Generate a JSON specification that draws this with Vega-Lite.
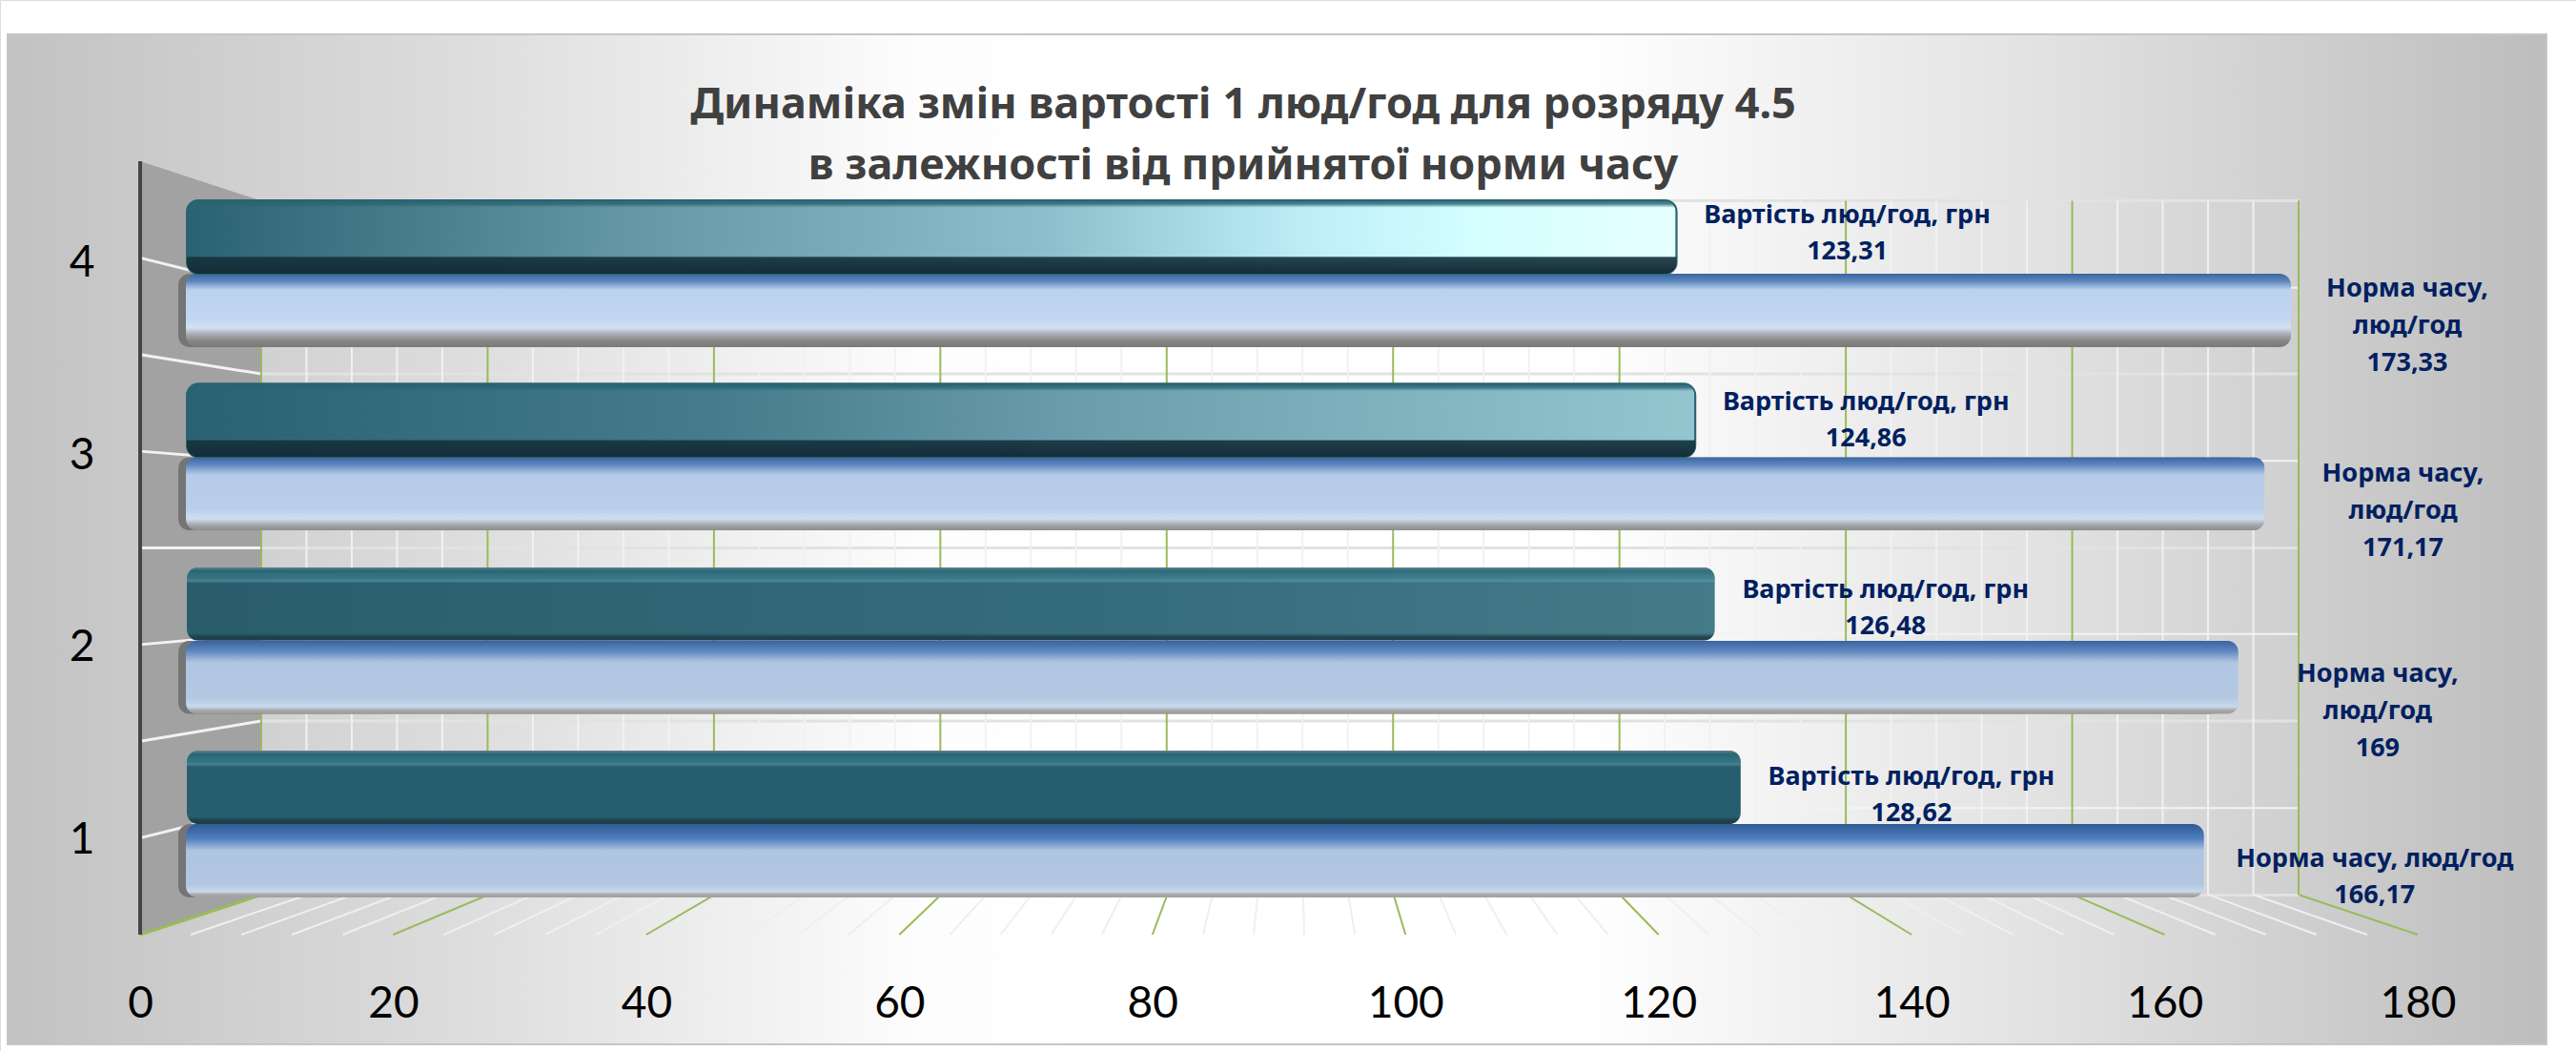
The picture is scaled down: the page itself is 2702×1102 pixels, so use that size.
{
"$schema":"https://vega.github.io/schema/vega-lite/v6.json",
"width":2702,"height":1102,"padding":0,"autosize":{"type":"none"},"background":"#ffffff",
"title":{"text":["Динаміка змін вартості 1 люд/год для розряду 4.5","в залежності від прийнятої норми  часу"],"anchor":"middle","frame":"group","dx":-47,"offset":-233,"baseline":"alphabetic","font":"Noto Sans","fontSize":45,"fontWeight":"bold","color":"#404040","lineHeight":64,"zindex":1},
"datasets":{
"panel":[{"left":0,"right":100,"low":0,"high":100}],
"wall":[{"depth":0,"low":0,"high":8},{"depth":9.57,"low":0.41,"high":7.59}],
"edge":[{"depth":0,"low":0,"high":8}],
"levels":[{"level":0,"far":0.41},{"level":1,"far":1.31},{"level":2,"far":2.21},{"level":3,"far":3.11},{"level":4,"far":4.0},{"level":5,"far":4.9},{"level":6,"far":5.8},{"level":7,"far":6.69},{"level":8,"far":7.59}],
"ticks":[{"tick":0,"back":9.57},{"tick":4,"back":13.15},{"tick":8,"back":16.73},{"tick":12,"back":20.31},{"tick":16,"back":23.89},{"tick":20,"back":27.47},{"tick":24,"back":31.05},{"tick":28,"back":34.63},{"tick":32,"back":38.21},{"tick":36,"back":41.79},{"tick":40,"back":45.37},{"tick":44,"back":48.95},{"tick":48,"back":52.53},{"tick":52,"back":56.11},{"tick":56,"back":59.69},{"tick":60,"back":63.27},{"tick":64,"back":66.85},{"tick":68,"back":70.43},{"tick":72,"back":74.01},{"tick":76,"back":77.59},{"tick":80,"back":81.17},{"tick":84,"back":84.75},{"tick":88,"back":88.33},{"tick":92,"back":91.91},{"tick":96,"back":95.49},{"tick":100,"back":99.07},{"tick":104,"back":102.65},{"tick":108,"back":106.23},{"tick":112,"back":109.81},{"tick":116,"back":113.39},{"tick":120,"back":116.97},{"tick":124,"back":120.55},{"tick":128,"back":124.13},{"tick":132,"back":127.71},{"tick":136,"back":131.29},{"tick":140,"back":134.87},{"tick":144,"back":138.45},{"tick":148,"back":142.03},{"tick":152,"back":145.61},{"tick":156,"back":149.19},{"tick":160,"back":152.77},{"tick":164,"back":156.35},{"tick":168,"back":159.93},{"tick":172,"back":163.51},{"tick":176,"back":167.09},{"tick":180,"back":170.67}],
"bars":[
{"category":4,"series":"Вартість люд/год, грн","value":123.31,"label":"Вартість люд/год, грн\n123,31"},
{"category":3,"series":"Вартість люд/год, грн","value":124.86,"label":"Вартість люд/год, грн\n124,86"},
{"category":2,"series":"Вартість люд/год, грн","value":126.48,"label":"Вартість люд/год, грн\n126,48"},
{"category":1,"series":"Вартість люд/год, грн","value":128.62,"label":"Вартість люд/год, грн\n128,62"},
{"category":4,"series":"Норма часу, люд/год","value":173.33,"label":"Норма часу,\nлюд/год\n173,33"},
{"category":3,"series":"Норма часу, люд/год","value":171.17,"label":"Норма часу,\nлюд/год\n171,17"},
{"category":2,"series":"Норма часу, люд/год","value":169,"label":"Норма часу,\nлюд/год\n169"},
{"category":1,"series":"Норма часу, люд/год","value":166.17,"label":"Норма часу, люд/год\n166,17"}
]},
"resolve":{"scale":{"x":"independent","y":"independent"},"axis":{"x":"independent","y":"independent"}},
"layer":[
{"data":{"name":"panel"},"mark":{"type":"rect","stroke":"#c6c6c6","strokeWidth":2,"fill":{"gradient":"linear","x1":0,"y1":0,"x2":1,"y2":0,"stops":[{"offset":0,"color":"#c2c2c2"},{"offset":0.2,"color":"#e0e0e0"},{"offset":0.36,"color":"#fdfdfd"},{"offset":0.42,"color":"#ffffff"},{"offset":0.62,"color":"#ffffff"},{"offset":0.8,"color":"#e2e2e2"},{"offset":1,"color":"#bdbdbd"}]}},
 "encoding":{"x":{"field":"left","type":"quantitative","axis":null,"scale":{"domain":[0,100],"range":[8,2671]}},"x2":{"field":"right"},"y":{"field":"low","type":"quantitative","axis":null,"scale":{"domain":[0,100],"range":[1095,36]}},"y2":{"field":"high"}}},
{"data":{"name":"wall"},"mark":{"type":"area","color":"#a2a2a2"},
 "encoding":{"x":{"field":"depth","type":"quantitative","axis":null,"scale":{"domain":[0,180],"range":[147,2536]}},"y":{"field":"low","type":"quantitative","axis":null,"scale":{"domain":[0,8],"range":[980,169]}},"y2":{"field":"high"}}},
{"data":{"name":"levels"},"transform":[{"filter":"datum.level<8"}],"mark":{"type":"rule","strokeWidth":3},
 "encoding":{"x":{"datum":0,"type":"quantitative","axis":null,"scale":{"domain":[0,180],"range":[147,2536]}},"x2":{"datum":9.57},"y":{"field":"level","type":"quantitative","axis":null,"scale":{"domain":[0,8],"range":[980,169]}},"y2":{"field":"far"},"stroke":{"condition":{"test":"datum.level==0","value":"#9bbb59"},"value":"#f2f2f2"}}},
{"data":{"name":"levels"},"mark":{"type":"rule"},
 "encoding":{"x":{"datum":0,"type":"quantitative","axis":null,"scale":{"domain":[0,180],"range":[274,2411]}},"x2":{"datum":180},"y":{"field":"far","type":"quantitative","axis":null,"scale":{"domain":[0,8],"range":[980,169]}},"stroke":{"condition":{"test":"datum.level%2==0","value":"#e2e2e2"},"value":"#f3f3f3"},"strokeWidth":{"condition":{"test":"datum.level%2==0","value":3},"value":2}}},
{"data":{"name":"ticks"},"transform":[{"filter":"datum.tick%20!=0"}],"mark":{"type":"rule","stroke":"#f1f1f1","strokeWidth":2},
 "encoding":{"x":{"field":"tick","type":"quantitative","axis":null,"scale":{"domain":[0,180],"range":[274,2411]}},"y":{"datum":0.41,"type":"quantitative","axis":null,"scale":{"domain":[0,8],"range":[980,169]}},"y2":{"datum":7.59}}},
{"data":{"name":"ticks"},"transform":[{"filter":"datum.tick%20==0"}],"mark":{"type":"rule","stroke":"#9bbb59","strokeWidth":2},
 "encoding":{"x":{"field":"tick","type":"quantitative","axis":null,"scale":{"domain":[0,180],"range":[274,2411]}},"y":{"datum":0.41,"type":"quantitative","axis":null,"scale":{"domain":[0,8],"range":[980,169]}},"y2":{"datum":7.59}}},
{"data":{"name":"ticks"},"transform":[{"filter":"datum.tick%20!=0"}],"mark":{"type":"rule","stroke":"#efefef","strokeWidth":2},
 "encoding":{"x":{"field":"tick","type":"quantitative","axis":null,"scale":{"domain":[0,180],"range":[147,2536]}},"x2":{"field":"back"},"y":{"datum":0,"type":"quantitative","axis":null,"scale":{"domain":[0,8],"range":[980,169]}},"y2":{"datum":0.41}}},
{"data":{"name":"ticks"},"transform":[{"filter":"datum.tick%20==0"}],"mark":{"type":"rule","stroke":"#9bbb59","strokeWidth":2},
 "encoding":{"x":{"field":"tick","type":"quantitative","title":null,"scale":{"domain":[0,180],"range":[147,2536]},"axis":{"orient":"bottom","offset":-122,"domain":false,"ticks":false,"grid":false,"title":null,"labelPadding":50,"labelFont":"Lato","labelFontSize":46,"labelColor":"#000000","labelOverlap":false,"labelFlush":false,"values":[0,20,40,60,80,100,120,140,160,180],"zindex":1}},"x2":{"field":"back"},"y":{"datum":0,"type":"quantitative","axis":null,"scale":{"domain":[0,8],"range":[980,169]}},"y2":{"datum":0.41}}},
{"data":{"name":"edge"},"mark":{"type":"rule","stroke":"#454545","strokeWidth":4},
 "encoding":{"x":{"field":"depth","type":"quantitative","axis":null,"scale":{"domain":[0,180],"range":[147,2536]}},"y":{"field":"low","type":"quantitative","axis":null,"scale":{"domain":[0,8],"range":[980,169]}},"y2":{"field":"high"}}},
{"data":{"name":"bars"},"transform":[{"filter":"datum.series=='Вартість люд/год, грн'"}],"mark":{"type":"rule","opacity":0},
 "encoding":{"y":{"field":"category","type":"ordinal","title":null,"scale":{"type":"band","domain":[4,3,2,1],"range":[175,982],"padding":0},"axis":{"orient":"left","offset":-147,"domain":false,"ticks":false,"grid":false,"title":null,"labelAngle":0,"labelPadding":48,"labelFont":"Lato","labelFontSize":46,"labelColor":"#000000","zindex":1}}}},
{"data":{"name":"bars"},"transform":[{"filter":"datum.series=='Норма часу, люд/год'"}],"mark":{"type":"bar","cornerRadius":12,"fill":"#757575"},
 "encoding":{"x":{"field":"value","type":"quantitative","axis":null,"scale":{"domain":[0,180],"range":[187,2470]}},"y":{"field":"category","type":"ordinal","axis":null,"scale":{"type":"band","domain":[4,3,2,1],"range":[287,941],"paddingInner":0.6,"paddingOuter":0}}}},
{"data":{"name":"bars"},"transform":[{"filter":"datum.series=='Норма часу, люд/год' && datum.category==4"}],"mark":{"type":"bar","cornerRadius":12,"fill":{"gradient":"linear","x1":0,"y1":0,"x2":0,"y2":1,"stops":[{"offset":0,"color":"#3a65a0"},{"offset":0.1,"color":"#5c86bd"},{"offset":0.22,"color":"#bcd1ee"},{"offset":0.62,"color":"#c2d7f3"},{"offset":0.74,"color":"#d3e1f2"},{"offset":0.82,"color":"#a9aeb4"},{"offset":0.92,"color":"#858585"},{"offset":1,"color":"#7a7a7a"}]}},
 "encoding":{"x":{"field":"value","type":"quantitative","axis":null,"scale":{"domain":[0,180],"range":[195,2488]}},"y":{"field":"category","type":"ordinal","axis":null,"scale":{"type":"band","domain":[4,3,2,1],"range":[287,941],"paddingInner":0.6,"paddingOuter":0}}}},
{"data":{"name":"bars"},"transform":[{"filter":"datum.series=='Норма часу, люд/год' && datum.category==3"}],"mark":{"type":"bar","cornerRadius":12,"fill":{"gradient":"linear","x1":0,"y1":0,"x2":0,"y2":1,"stops":[{"offset":0,"color":"#3a65a3"},{"offset":0.1,"color":"#5c86bd"},{"offset":0.24,"color":"#b6cbe8"},{"offset":0.7,"color":"#bacee9"},{"offset":0.84,"color":"#cfdef0"},{"offset":0.92,"color":"#a5a9ae"},{"offset":1,"color":"#8a8a8a"}]}},
 "encoding":{"x":{"field":"value","type":"quantitative","axis":null,"scale":{"domain":[0,180],"range":[195,2488]}},"y":{"field":"category","type":"ordinal","axis":null,"scale":{"type":"band","domain":[4,3,2,1],"range":[287,941],"paddingInner":0.6,"paddingOuter":0}}}},
{"data":{"name":"bars"},"transform":[{"filter":"datum.series=='Норма часу, люд/год' && datum.category==2"}],"mark":{"type":"bar","cornerRadius":12,"fill":{"gradient":"linear","x1":0,"y1":0,"x2":0,"y2":1,"stops":[{"offset":0,"color":"#37619f"},{"offset":0.14,"color":"#5f88bf"},{"offset":0.3,"color":"#b1c6e2"},{"offset":0.78,"color":"#b3c8e3"},{"offset":0.9,"color":"#c9d9ec"},{"offset":0.95,"color":"#a8a8ab"},{"offset":1,"color":"#999999"}]}},
 "encoding":{"x":{"field":"value","type":"quantitative","axis":null,"scale":{"domain":[0,180],"range":[195,2488]}},"y":{"field":"category","type":"ordinal","axis":null,"scale":{"type":"band","domain":[4,3,2,1],"range":[287,941],"paddingInner":0.6,"paddingOuter":0}}}},
{"data":{"name":"bars"},"transform":[{"filter":"datum.series=='Норма часу, люд/год' && datum.category==1"}],"mark":{"type":"bar","cornerRadius":12,"fill":{"gradient":"linear","x1":0,"y1":0,"x2":0,"y2":1,"stops":[{"offset":0,"color":"#2f5a96"},{"offset":0.2,"color":"#4f7fbe"},{"offset":0.36,"color":"#afc4e0"},{"offset":0.82,"color":"#b2c6e1"},{"offset":0.92,"color":"#c9d9ec"},{"offset":0.96,"color":"#a8a8ab"},{"offset":1,"color":"#a0a0a0"}]}},
 "encoding":{"x":{"field":"value","type":"quantitative","axis":null,"scale":{"domain":[0,180],"range":[195,2488]}},"y":{"field":"category","type":"ordinal","axis":null,"scale":{"type":"band","domain":[4,3,2,1],"range":[287,941],"paddingInner":0.6,"paddingOuter":0}}}},
{"data":{"name":"bars"},"transform":[{"filter":"datum.series=='Вартість люд/год, грн' && datum.category==4"}],"mark":{"type":"bar","cornerRadius":12,"stroke":"#2a6373","strokeWidth":2,"fill":{"gradient":"linear","x1":0,"y1":0,"x2":1,"y2":0,"stops":[{"offset":0,"color":"#2b6271"},{"offset":0.3,"color":"#6498a6"},{"offset":0.58,"color":"#8dc0cc"},{"offset":0.75,"color":"#bdeef8"},{"offset":0.87,"color":"#d5ffff"},{"offset":1,"color":"#e6ffff"}]}},
 "encoding":{"x":{"field":"value","type":"quantitative","axis":null,"scale":{"domain":[0,180],"range":[196,2477]}},"y":{"field":"category","type":"ordinal","axis":null,"scale":{"type":"band","domain":[4,3,2,1],"range":[210,864],"paddingInner":0.6,"paddingOuter":0}}}},
{"data":{"name":"bars"},"transform":[{"filter":"datum.series=='Вартість люд/год, грн' && datum.category==3"}],"mark":{"type":"bar","cornerRadius":12,"stroke":"#2a6373","strokeWidth":2,"fill":{"gradient":"linear","x1":0,"y1":0,"x2":1,"y2":0,"stops":[{"offset":0,"color":"#2a6272"},{"offset":0.35,"color":"#457b8a"},{"offset":0.6,"color":"#6c9fad"},{"offset":1,"color":"#94c6d0"}]}},
 "encoding":{"x":{"field":"value","type":"quantitative","axis":null,"scale":{"domain":[0,180],"range":[196,2477]}},"y":{"field":"category","type":"ordinal","axis":null,"scale":{"type":"band","domain":[4,3,2,1],"range":[210,864],"paddingInner":0.6,"paddingOuter":0}}}},
{"data":{"name":"bars"},"transform":[{"filter":"datum.series=='Вартість люд/год, грн' && datum.category==2"}],"mark":{"type":"bar","cornerRadius":12,"fill":{"gradient":"linear","x1":0,"y1":0,"x2":1,"y2":0,"stops":[{"offset":0,"color":"#295d6c"},{"offset":0.6,"color":"#356c7b"},{"offset":1,"color":"#457a89"}]}},
 "encoding":{"x":{"field":"value","type":"quantitative","axis":null,"scale":{"domain":[0,180],"range":[196,2477]}},"y":{"field":"category","type":"ordinal","axis":null,"scale":{"type":"band","domain":[4,3,2,1],"range":[210,864],"paddingInner":0.6,"paddingOuter":0}}}},
{"data":{"name":"bars"},"transform":[{"filter":"datum.series=='Вартість люд/год, грн' && datum.category==1"}],"mark":{"type":"bar","cornerRadius":12,"fill":"#265e6d"},
 "encoding":{"x":{"field":"value","type":"quantitative","axis":null,"scale":{"domain":[0,180],"range":[196,2477]}},"y":{"field":"category","type":"ordinal","axis":null,"scale":{"type":"band","domain":[4,3,2,1],"range":[210,864],"paddingInner":0.6,"paddingOuter":0}}}},
{"data":{"name":"bars"},"transform":[{"filter":"datum.series=='Вартість люд/год, грн' && datum.category>=3"}],"mark":{"type":"bar","cornerRadius":12,"fill":{"gradient":"linear","x1":0,"y1":0,"x2":0,"y2":1,"stops":[{"offset":0,"color":"rgba(40,100,115,0.95)"},{"offset":0.05,"color":"rgba(40,100,115,0.8)"},{"offset":0.1,"color":"rgba(40,100,115,0)"},{"offset":0.76,"color":"rgba(20,50,60,0)"},{"offset":0.78,"color":"rgba(20,50,60,0.9)"},{"offset":1,"color":"rgba(20,45,55,1)"}]}},
 "encoding":{"x":{"field":"value","type":"quantitative","axis":null,"scale":{"domain":[0,180],"range":[196,2477]}},"y":{"field":"category","type":"ordinal","axis":null,"scale":{"type":"band","domain":[4,3,2,1],"range":[210,864],"paddingInner":0.6,"paddingOuter":0}}}},
{"data":{"name":"bars"},"transform":[{"filter":"datum.series=='Вартість люд/год, грн' && datum.category<=2"}],"mark":{"type":"bar","cornerRadius":12,"fill":{"gradient":"linear","x1":0,"y1":0,"x2":0,"y2":1,"stops":[{"offset":0,"color":"rgba(120,140,145,0.8)"},{"offset":0.05,"color":"rgba(40,105,120,0.7)"},{"offset":0.15,"color":"rgba(70,135,150,0.5)"},{"offset":0.19,"color":"rgba(100,170,185,0.5)"},{"offset":0.23,"color":"rgba(40,100,115,0)"},{"offset":0.9,"color":"rgba(30,60,70,0)"},{"offset":0.95,"color":"rgba(30,60,70,0.85)"},{"offset":1,"color":"rgba(30,60,70,0.95)"}]}},
 "encoding":{"x":{"field":"value","type":"quantitative","axis":null,"scale":{"domain":[0,180],"range":[196,2477]}},"y":{"field":"category","type":"ordinal","axis":null,"scale":{"type":"band","domain":[4,3,2,1],"range":[210,864],"paddingInner":0.6,"paddingOuter":0}}}},
{"data":{"name":"bars"},"transform":[{"filter":"datum.series=='Вартість люд/год, грн'"}],"mark":{"type":"text","dx":179,"font":"Noto Sans","fontSize":27,"fontWeight":"bold","color":"#002060","align":"center","baseline":"middle","lineBreak":"\n","lineHeight":38},
 "encoding":{"x":{"field":"value","type":"quantitative","axis":null,"scale":{"domain":[0,180],"range":[196,2477]}},"y":{"field":"category","type":"ordinal","axis":null,"scale":{"type":"band","domain":[4,3,2,1],"range":[128,913],"padding":0}},"text":{"field":"label"}}},
{"data":{"name":"bars"},"transform":[{"filter":"datum.series=='Норма часу, люд/год' && datum.category==4"}],"mark":{"type":"text","dx":122,"dy":-39,"font":"Noto Sans","fontSize":27,"fontWeight":"bold","color":"#002060","align":"center","baseline":"middle","lineBreak":"\n","lineHeight":39},
 "encoding":{"x":{"field":"value","type":"quantitative","axis":null,"scale":{"domain":[0,180],"range":[195,2488]}},"y":{"field":"category","type":"ordinal","axis":null,"scale":{"type":"band","domain":[4,3,2,1],"range":[246,1016],"padding":0}},"text":{"field":"label"}}},
{"data":{"name":"bars"},"transform":[{"filter":"datum.series=='Норма часу, люд/год' && datum.category==3"}],"mark":{"type":"text","dx":145,"dy":-38,"font":"Noto Sans","fontSize":27,"fontWeight":"bold","color":"#002060","align":"center","baseline":"middle","lineBreak":"\n","lineHeight":39},
 "encoding":{"x":{"field":"value","type":"quantitative","axis":null,"scale":{"domain":[0,180],"range":[195,2488]}},"y":{"field":"category","type":"ordinal","axis":null,"scale":{"type":"band","domain":[4,3,2,1],"range":[246,1016],"padding":0}},"text":{"field":"label"}}},
{"data":{"name":"bars"},"transform":[{"filter":"datum.series=='Норма часу, люд/год' && datum.category==2"}],"mark":{"type":"text","dx":146,"dy":-20,"font":"Noto Sans","fontSize":27,"fontWeight":"bold","color":"#002060","align":"center","baseline":"middle","lineBreak":"\n","lineHeight":39},
 "encoding":{"x":{"field":"value","type":"quantitative","axis":null,"scale":{"domain":[0,180],"range":[195,2488]}},"y":{"field":"category","type":"ordinal","axis":null,"scale":{"type":"band","domain":[4,3,2,1],"range":[246,1016],"padding":0}},"text":{"field":"label"}}},
{"data":{"name":"bars"},"transform":[{"filter":"datum.series=='Норма часу, люд/год' && datum.category==1"}],"mark":{"type":"text","dx":179,"dy":-19,"font":"Noto Sans","fontSize":27,"fontWeight":"bold","color":"#002060","align":"center","baseline":"middle","lineBreak":"\n","lineHeight":38},
 "encoding":{"x":{"field":"value","type":"quantitative","axis":null,"scale":{"domain":[0,180],"range":[195,2488]}},"y":{"field":"category","type":"ordinal","axis":null,"scale":{"type":"band","domain":[4,3,2,1],"range":[246,1016],"padding":0}},"text":{"field":"label"}}}
]
}
